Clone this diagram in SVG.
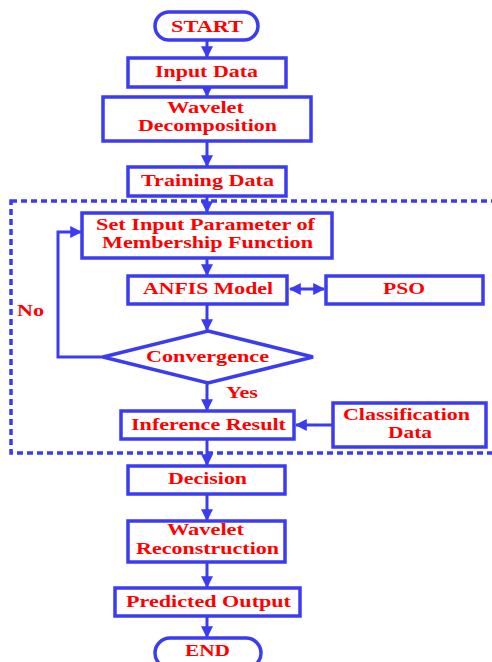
<svg xmlns="http://www.w3.org/2000/svg" width="492" height="662" viewBox="0 0 492 662">
  <defs>
    <style>
      .box { fill: #ffffff; stroke: #3b3bf2; stroke-width: 3.5; }
      .line { fill: none; stroke: #3b3bf2; stroke-width: 3; }
      .group { fill: none; stroke: #3b3bf2; stroke-width: 3.5; stroke-dasharray: 6 4; }
      text { font-family: "Liberation Serif", "Times New Roman", serif; font-weight: bold; font-size: 17px; fill: #ff0000; text-anchor: middle; }
    </style>
    <marker id="arrow" viewBox="0 0 10 10" refX="9" refY="5" markerWidth="4" markerHeight="4" orient="auto-start-reverse">
      <path d="M0,0 L10,5 L0,10 Z" fill="#3b3bf2"/>
    </marker>
  </defs>
  <rect width="492" height="662" fill="#ffffff"/>

  <!-- optimisation loop boundary -->
  <rect class="group" x="11" y="201" width="490" height="252"/>

  <g id="connectors">
    <line class="line" x1="207" y1="41" x2="207" y2="57" marker-end="url(#arrow)"/>
    <line class="line" x1="207" y1="87" x2="207" y2="96" marker-end="url(#arrow)"/>
    <line class="line" x1="207" y1="141" x2="207" y2="166" marker-end="url(#arrow)"/>
    <line class="line" x1="207" y1="196" x2="207" y2="212" marker-end="url(#arrow)"/>
    <line class="line" x1="207" y1="258" x2="207" y2="275" marker-end="url(#arrow)"/>
    <line class="line" x1="290" y1="289" x2="324" y2="289" marker-start="url(#arrow)" marker-end="url(#arrow)"/>
    <line class="line" x1="207" y1="304" x2="207" y2="330" marker-end="url(#arrow)"/>
    <polyline class="line" points="103,357 58,357 58,232 81,232" marker-end="url(#arrow)"/>
    <line class="line" x1="207" y1="383" x2="207" y2="410" marker-end="url(#arrow)"/>
    <line class="line" x1="333" y1="425" x2="296" y2="425" marker-end="url(#arrow)"/>
    <line class="line" x1="207" y1="439" x2="207" y2="465" marker-end="url(#arrow)"/>
    <line class="line" x1="207" y1="494" x2="207" y2="520" marker-end="url(#arrow)"/>
    <line class="line" x1="207" y1="562" x2="207" y2="587" marker-end="url(#arrow)"/>
    <line class="line" x1="207" y1="616" x2="207" y2="637" marker-end="url(#arrow)"/>
    <text x="30.5" y="316" textLength="27" lengthAdjust="spacingAndGlyphs">No</text>
    <text x="242" y="398" textLength="32" lengthAdjust="spacingAndGlyphs">Yes</text>
  </g>

  <g id="start">
    <rect class="box" x="155" y="12" width="103" height="28" rx="14"/>
    <text x="207" y="32" textLength="72" lengthAdjust="spacingAndGlyphs">START</text>
  </g>
  <g id="input-data">
    <rect class="box" x="128" y="58" width="158" height="29"/>
    <text x="206.5" y="77" textLength="103" lengthAdjust="spacingAndGlyphs">Input Data</text>
  </g>
  <g id="wavelet-decomposition">
    <rect class="box" x="103" y="97" width="208" height="44"/>
    <text x="205.5" y="113" textLength="77" lengthAdjust="spacingAndGlyphs">Wavelet</text>
    <text x="207.5" y="131" textLength="139" lengthAdjust="spacingAndGlyphs">Decomposition</text>
  </g>
  <g id="training-data">
    <rect class="box" x="128" y="167" width="158" height="29"/>
    <text x="207.5" y="186" textLength="133" lengthAdjust="spacingAndGlyphs">Training Data</text>
  </g>
  <g id="set-input-parameter">
    <rect class="box" x="82" y="213" width="250" height="45"/>
    <text x="205.5" y="230" textLength="219" lengthAdjust="spacingAndGlyphs">Set Input Parameter of</text>
    <text x="207.5" y="248" textLength="211" lengthAdjust="spacingAndGlyphs">Membership Function</text>
  </g>
  <g id="anfis-model">
    <rect class="box" x="128" y="276" width="159" height="28"/>
    <text x="208" y="294" textLength="130" lengthAdjust="spacingAndGlyphs">ANFIS Model</text>
  </g>
  <g id="pso">
    <rect class="box" x="326" y="276" width="157" height="28"/>
    <text x="404" y="294" textLength="42" lengthAdjust="spacingAndGlyphs">PSO</text>
  </g>
  <g id="convergence">
    <polygon class="box" points="208,331 313,357 208,383 103,357"/>
    <text x="207.5" y="362" textLength="123" lengthAdjust="spacingAndGlyphs">Convergence</text>
  </g>
  <g id="inference-result">
    <rect class="box" x="121" y="411" width="173" height="28"/>
    <text x="208.5" y="430" textLength="155" lengthAdjust="spacingAndGlyphs">Inference Result</text>
  </g>
  <g id="classification-data">
    <rect class="box" x="333" y="403" width="153" height="44"/>
    <text x="406.5" y="420" textLength="127" lengthAdjust="spacingAndGlyphs">Classification</text>
    <text x="410" y="438" textLength="44" lengthAdjust="spacingAndGlyphs">Data</text>
  </g>
  <g id="decision">
    <rect class="box" x="128" y="466" width="157" height="28"/>
    <text x="207.5" y="484" textLength="79" lengthAdjust="spacingAndGlyphs">Decision</text>
  </g>
  <g id="wavelet-reconstruction">
    <rect class="box" x="128" y="521" width="157" height="41"/>
    <text x="205.5" y="535" textLength="77" lengthAdjust="spacingAndGlyphs">Wavelet</text>
    <text x="207.5" y="554" textLength="143" lengthAdjust="spacingAndGlyphs">Reconstruction</text>
  </g>
  <g id="predicted-output">
    <rect class="box" x="115" y="588" width="185" height="28"/>
    <text x="208.5" y="607" textLength="165" lengthAdjust="spacingAndGlyphs">Predicted Output</text>
  </g>
  <g id="end">
    <rect class="box" x="155" y="638" width="106" height="30" rx="15"/>
    <text x="207.5" y="656" textLength="45" lengthAdjust="spacingAndGlyphs">END</text>
  </g>
</svg>
